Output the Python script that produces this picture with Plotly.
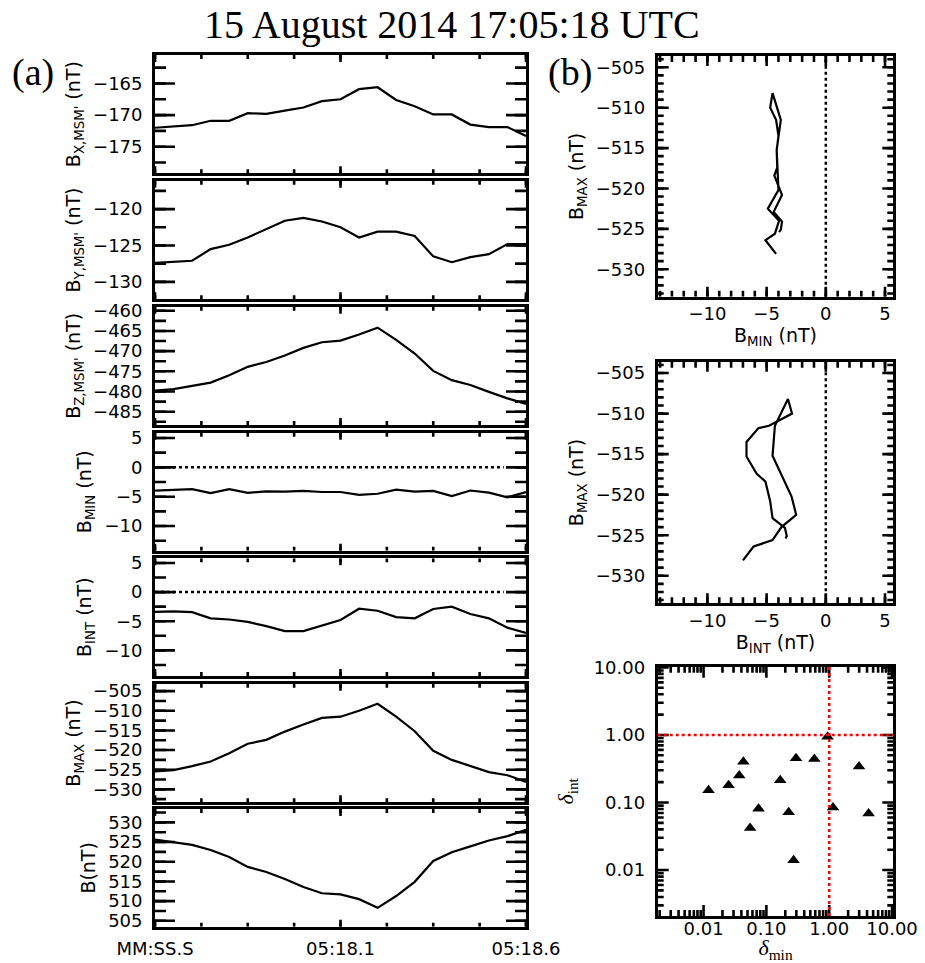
import math
import plotly.graph_objects as go

W, H = 925, 963

# ---------------- data ----------------
t_sec = [17.60, 17.65, 17.70, 17.75, 17.80, 17.85, 17.90, 17.95, 18.00, 18.05, 18.10,
         18.15, 18.20, 18.25, 18.30, 18.35, 18.40, 18.45, 18.50, 18.55, 18.60]
bx = [-172.0, -171.8, -171.6, -170.9, -170.9, -169.7, -169.8, -169.3, -168.8, -167.8, -167.5,
      -165.9, -165.6, -167.6, -168.6, -169.9, -169.9, -171.5, -171.9, -171.9, -173.3]
by = [-127.4, -127.3, -127.1, -125.5, -124.9, -123.9, -122.8, -121.6, -121.2, -121.7, -122.5,
      -123.9, -123.1, -123.1, -123.7, -126.5, -127.3, -126.6, -126.2, -124.8, -124.8]
bz = [-479.8, -479.4, -478.6, -477.8, -476.0, -473.9, -472.7, -471.1, -469.2, -467.8, -467.4,
      -465.9, -464.2, -467.2, -470.6, -474.9, -477.2, -478.4, -480.1, -481.7, -483.1]
bmin = [-3.95, -3.8, -3.7, -4.4, -3.7, -4.35, -4.1, -4.15, -4.0, -4.2, -4.2,
        -4.7, -4.5, -3.8, -4.15, -4.0, -4.9, -3.95, -4.3, -5.1, -4.2]
bint = [-3.4, -3.3, -3.45, -4.5, -4.7, -5.1, -5.85, -6.7, -6.7, -5.7, -4.8,
        -2.85, -3.2, -4.3, -4.5, -2.9, -2.5, -3.75, -4.5, -6.1, -7.0]
bmax = [-525.4, -525.1, -524.1, -522.9, -520.8, -518.4, -517.4, -515.3, -513.5, -511.8, -511.5,
        -510.0, -508.2, -511.5, -515.2, -520.2, -522.5, -524.0, -525.6, -526.4, -528.1]
btot = [525.6, 525.0, 524.3, 523.0, 521.2, 518.7, 517.4, 515.6, 513.6, 512.0, 511.7,
        510.5, 508.3, 511.3, 514.9, 520.2, 522.4, 523.9, 525.4, 526.5, 528.1]

delta_min = [0.012, 0.025, 0.037, 0.043, 0.055, 0.075, 0.166, 0.226, 0.271, 0.296, 0.58,
             0.94, 1.15, 2.98, 4.24]
delta_int = [0.152, 0.18, 0.25, 0.40, 0.042, 0.081, 0.214, 0.072, 0.014, 0.45, 0.44,
             0.94, 0.084, 0.34, 0.069]

time_tickvals = [17.6, 18.1, 18.6]
time_ticktext = ["MM:SS.S", "05:18.1", "05:18.6"]

left_titles = ["B<sub>X,MSM'</sub> (nT)", "B<sub>Y,MSM'</sub> (nT)", "B<sub>Z,MSM'</sub> (nT)",
               "B<sub>MIN</sub> (nT)", "B<sub>INT</sub> (nT)", "B<sub>MAX</sub> (nT)", "B(nT)"]
left_series = [bx, by, bz, bmin, bint, bmax, btot]
left_ranges = [[-179.2, -160.5], [-132.4, -116.1], [-488.3, -459.0], [-14.2, 5.9],
               [-14.4, 5.8], [-533.3, -503.1], [503.5, 533.4]]

log_tickvals = [0.01, 0.1, 1, 10]
log_ticktext = ["0.01", "0.10", "1.00", "10.00"]

# ---------------- layout helpers ----------------
SANS = "DejaVu Sans"
SERIF = "Liberation Serif"
FS = 18
LW = 2.8
TW = 2.6


def fx(p):
    return p / W


def fy(p):
    return 1 - p / H


left_x = (155, 526)
left_px = [(55, 173.3), (180.7, 299.3), (306.7, 425), (432.7, 550.7), (558.3, 676),
           (683.7, 802.3), (809, 926.7)]
right_x = (657.7, 893.3)
right_px = [(56, 296.7), (361.7, 603.3), (666.7, 916)]

fig = go.Figure()
layout = dict(width=W, height=H, margin=dict(l=0, r=0, t=0, b=0), autosize=False,
              plot_bgcolor="white", paper_bgcolor="white", showlegend=False)
shapes = []


def steps(lo, hi, step, start=0.0):
    k0 = math.ceil((lo - start) / step - 1e-9)
    k1 = math.floor((hi - start) / step + 1e-9)
    return [round(start + k * step, 6) for k in range(k0, k1 + 1)]


def log_steps(lo_exp, hi_exp):
    out = []
    for e in range(math.floor(lo_exp), math.ceil(hi_exp) + 1):
        for m in range(2, 10):
            v = m * 10.0 ** e
            if lo_exp <= math.log10(v) <= hi_exp:
                out.append(v)
    return out


def inward_ticks(xid, yid, xr, yr, xlog, ylog, xpx, ypx, xticks, yticks):
    """Inward tick marks on all four sides, drawn as one line trace on the panel's own axes."""
    upx_x = (xr[1] - xr[0]) / (xpx[1] - xpx[0])   # axis units per pixel
    upx_y = (yr[1] - yr[0]) / (ypx[1] - ypx[0])
    tx = (lambda u: 10 ** u) if xlog else (lambda u: u)
    ty = (lambda u: 10 ** u) if ylog else (lambda u: u)
    xs, ys = [], []
    for vals, ln in xticks:
        d = ln * upx_y
        for v in vals:
            xs += [v, v, None, v, v, None]
            ys += [ty(yr[0]), ty(yr[0] + d), None, ty(yr[1]), ty(yr[1] - d), None]
    for vals, ln in yticks:
        d = ln * upx_x
        for v in vals:
            xs += [tx(xr[0]), tx(xr[0] + d), None, tx(xr[1]), tx(xr[1] - d), None]
            ys += [v, v, None, v, v, None]
    fig.add_trace(go.Scatter(x=xs, y=ys, mode="lines", line=dict(color="black", width=TW),
                             xaxis=xid, yaxis=yid, hoverinfo="skip", connectgaps=False))


def main_axis(**kw):
    d = dict(showline=True, linewidth=LW, linecolor="black", mirror=True, ticks="",
             showgrid=False, zeroline=False, automargin=False,
             tickfont=dict(family=SANS, size=FS, color="black"))
    d.update(kw)
    return d


def ids(n):
    if n == 1:
        return "x", "y", "xaxis", "yaxis"
    return f"x{n}", f"y{n}", f"xaxis{n}", f"yaxis{n}"


# ---------------- left column: time series ----------------
t_range = [17.6, 18.6]
t_minor = steps(17.6, 18.6, 0.125, 17.6)
for i, (series, title, rng, ypx) in enumerate(zip(left_series, left_titles, left_ranges, left_px)):
    n = i + 1
    xid, yid, xkey, ykey = ids(n)
    layout[xkey] = main_axis(domain=[fx(left_x[0]), fx(left_x[1])], anchor=yid, range=t_range,
                             tickvals=time_tickvals, ticktext=time_ticktext,
                             showticklabels=(n == 7), ticklabelstandoff=4)
    layout[ykey] = main_axis(domain=[fy(ypx[1]), fy(ypx[0])], anchor=xid, range=rng,
                             tick0=0, dtick=5, ticklabelstandoff=6,
                             title=dict(text=title, standoff=8,
                                        font=dict(family=SANS, size=FS + 1, color="black")))
    fig.add_trace(go.Scatter(x=t_sec, y=series, mode="lines", line=dict(color="black", width=2.2),
                             xaxis=xid, yaxis=yid, hoverinfo="skip"))
    inward_ticks(xid, yid, t_range, rng, False, False, left_x, ypx,
                 [(t_minor, 4), (time_tickvals, 7)],
                 [(steps(rng[0], rng[1], 2.5), 11), (steps(rng[0], rng[1], 5), 20)])
    if n in (4, 5):
        shapes.append(dict(type="line", xref=f"{xid} domain", yref=yid, x0=0, x1=0.94, y0=0, y1=0,
                           line=dict(color="black", width=2.5, dash="dot")))

# ---------------- right column: hodograms ----------------
hodo_xr = [-14.2, 5.7]
hodo_yr = [-533.4, -503.6]
hodo = [(bmin, "B<sub>MIN</sub> (nT)"), (bint, "B<sub>INT</sub> (nT)")]
for j, (xs_, xtitle) in enumerate(hodo):
    n = 8 + j
    xid, yid, xkey, ykey = ids(n)
    ypx = right_px[j]
    layout[xkey] = main_axis(domain=[fx(right_x[0]), fx(right_x[1])], anchor=yid, range=hodo_xr,
                             tick0=0, dtick=5, ticklabelstandoff=-1,
                             title=dict(text=xtitle, standoff=4,
                                        font=dict(family=SANS, size=FS + 1, color="black")))
    layout[ykey] = main_axis(domain=[fy(ypx[1]), fy(ypx[0])], anchor=xid, range=hodo_yr,
                             tick0=0, dtick=5, ticklabelstandoff=6,
                             title=dict(text="B<sub>MAX</sub> (nT)", standoff=8,
                                        font=dict(family=SANS, size=FS + 1, color="black")))
    fig.add_trace(go.Scatter(x=xs_, y=bmax, mode="lines", line=dict(color="black", width=2.2),
                             xaxis=xid, yaxis=yid, hoverinfo="skip"))
    inward_ticks(xid, yid, hodo_xr, hodo_yr, False, False, right_x, ypx,
                 [(steps(*hodo_xr, 1), 6), (steps(*hodo_xr, 5), 10)],
                 [(steps(*hodo_yr, 1), 6), (steps(*hodo_yr, 5), 11)])
    shapes.append(dict(type="line", xref=xid, yref=f"{yid} domain", x0=0, x1=0, y0=0, y1=1,
                       line=dict(color="black", width=2.5, dash="dot")))

# ---------------- delta scatter (log-log) ----------------
log_xr = [-2.73, 1.02]
log_yr = [-2.68, 1.01]
xid, yid, xkey, ykey = ids(10)
ypx = right_px[2]
layout[xkey] = main_axis(domain=[fx(right_x[0]), fx(right_x[1])], anchor=yid, type="log", range=log_xr,
                         tickvals=log_tickvals, ticktext=log_ticktext, ticklabelstandoff=-6,
                         title=dict(text="<i>δ</i><sub>min</sub>", standoff=4,
                                    font=dict(family=SERIF, size=22, color="black")))
layout[ykey] = main_axis(domain=[fy(ypx[1]), fy(ypx[0])], anchor=xid, type="log", range=log_yr,
                         tickvals=log_tickvals, ticktext=log_ticktext, ticklabelstandoff=6,
                         title=dict(text="<i>δ</i><sub>int</sub>", standoff=14,
                                    font=dict(family=SERIF, size=22, color="black")))
inward_ticks(xid, yid, log_xr, log_yr, True, True, right_x, ypx,
             [(log_steps(*log_xr), 6), (log_tickvals, 11)],
             [(log_steps(*log_yr), 6), (log_tickvals, 11)])
fig.add_trace(go.Scatter(x=delta_min, y=delta_int, mode="markers",
                         marker=dict(symbol="triangle-up", size=11, color="black"),
                         xaxis=xid, yaxis=yid, hoverinfo="skip"))
shapes.append(dict(type="line", xref=xid, yref=f"{yid} domain", x0=1, x1=1, y0=0, y1=1,
                   line=dict(color="red", width=2.5, dash="dot")))
shapes.append(dict(type="line", xref=f"{xid} domain", yref=yid, x0=0, x1=1, y0=1, y1=1,
                   line=dict(color="red", width=2.5, dash="dot")))

layout["shapes"] = shapes
layout["annotations"] = [
    dict(text="15 August 2014 17:05:18 UTC", x=fx(452), y=fy(25), xref="paper", yref="paper",
         showarrow=False, font=dict(family=SERIF, size=40, color="black"), xanchor="center", yanchor="middle"),
    dict(text="(a)", x=fx(33), y=fy(72), xref="paper", yref="paper", showarrow=False,
         font=dict(family=SERIF, size=38, color="black"), xanchor="center", yanchor="middle"),
    dict(text="(b)", x=fx(570), y=fy(72), xref="paper", yref="paper", showarrow=False,
         font=dict(family=SERIF, size=38, color="black"), xanchor="center", yanchor="middle"),
]

fig.update_layout(**layout)
fig.write_html("out.html")
